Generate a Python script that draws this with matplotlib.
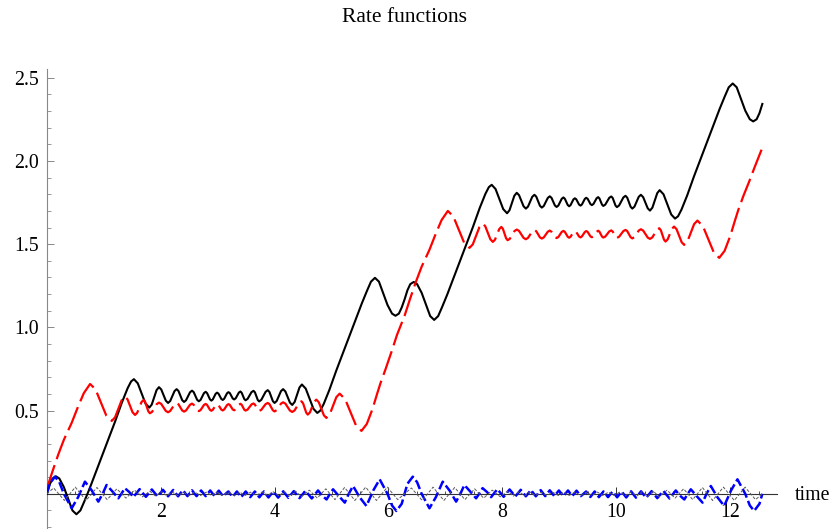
import matplotlib
matplotlib.use("Agg")
import matplotlib.pyplot as plt
from matplotlib.ticker import MultipleLocator, FixedLocator, FixedFormatter

plt.rcParams['font.family'] = ['Liberation Serif', 'DejaVu Serif']
plt.rcParams['lines.scale_dashes'] = False

# ---------------- data ----------------
black_t = [0.00, 0.05, 0.10, 0.16, 0.22, 0.30, 0.38, 0.45, 0.52, 0.59, 0.66, 0.75, 0.90, 1.05, 1.20, 1.32, 1.42, 1.48,
           1.53, 1.5975, 1.665, 1.7325, 1.80, 1.8425, 1.885, 1.9275, 1.97, 2.01, 2.05, 2.09, 2.13, 2.1675, 2.205, 2.2425,
           2.28, 2.3125, 2.345, 2.3775, 2.41, 2.445, 2.48, 2.515, 2.55, 2.58, 2.61, 2.64, 2.67, 2.70, 2.73, 2.76,
           2.79, 2.815, 2.84, 2.865, 2.89, 2.915, 2.94, 2.965, 2.99, 3.015, 3.04, 3.065, 3.09, 3.115, 3.14, 3.165,
           3.19, 3.215, 3.24, 3.265, 3.29, 3.3175, 3.345, 3.3725, 3.40, 3.4225, 3.445, 3.4675, 3.49, 3.525, 3.56, 3.595,
           3.63, 3.655, 3.68, 3.705, 3.73, 3.7675, 3.805, 3.8425, 3.88, 3.91, 3.94, 3.97, 4.00, 4.0375, 4.075, 4.1125,
           4.15, 4.19, 4.23, 4.27, 4.31, 4.3525, 4.395, 4.4375, 4.48, 4.5475, 4.615, 4.6825, 4.75,
           4.803, 4.863, 4.963, 5.083, 5.233, 5.383, 5.533, 5.623, 5.693, 5.763, 5.833, 5.903, 5.983, 6.063, 6.123,
           6.183, 6.233,
           6.283, 6.333, 6.383, 6.443, 6.503, 6.583, 6.663, 6.733, 6.803, 6.873, 6.943, 7.033, 7.183, 7.333, 7.483, 7.603,
           7.703, 7.763,
           7.813, 7.8805, 7.948, 8.0155, 8.083, 8.1255, 8.168, 8.2105, 8.253, 8.293, 8.333, 8.373, 8.413, 8.4505, 8.488,
           8.5255, 8.563, 8.5955, 8.628, 8.6605, 8.693, 8.728, 8.763, 8.798, 8.833, 8.863, 8.893, 8.923, 8.953, 8.983,
           9.013, 9.043, 9.073, 9.098, 9.123, 9.148, 9.173, 9.198, 9.223, 9.248, 9.273, 9.298, 9.323, 9.348, 9.373,
           9.398, 9.423, 9.448, 9.473, 9.498, 9.523, 9.548, 9.573, 9.6005, 9.628, 9.6555, 9.683, 9.7055, 9.728, 9.7505,
           9.773, 9.808, 9.843, 9.878, 9.913, 9.938, 9.963, 9.988, 10.013, 10.0505, 10.088, 10.1255, 10.163, 10.193,
           10.223, 10.253, 10.283, 10.3205, 10.358, 10.3955, 10.433, 10.473, 10.513, 10.553, 10.593, 10.6355, 10.678,
           10.7205, 10.763, 10.8305, 10.898, 10.9655, 11.033,
           11.086, 11.146, 11.246, 11.366, 11.516, 11.666, 11.816, 11.906, 11.976, 12.046, 12.116, 12.186, 12.266,
           12.346, 12.406, 12.466, 12.516, 12.566]
black_y = [0.000, 0.055, 0.092, 0.105, 0.092, 0.040, -0.035, -0.100, -0.123, -0.100, -0.045, 0.030, 0.165, 0.300, 0.435,
           0.550, 0.635, 0.675,
           0.689, 0.664, 0.6035, 0.543, 0.518, 0.536, 0.5795, 0.623, 0.641, 0.627, 0.5935, 0.560, 0.546, 0.558, 0.5875,
           0.617, 0.629, 0.618, 0.5905, 0.563, 0.552, 0.562, 0.586, 0.610, 0.620, 0.611, 0.588, 0.565, 0.556, 0.564,
           0.5845, 0.605, 0.613, 0.605, 0.5865, 0.568, 0.560, 0.567, 0.584, 0.601, 0.608, 0.602, 0.586, 0.570, 0.564,
           0.571, 0.5875, 0.604, 0.611, 0.605, 0.589, 0.573, 0.567, 0.574, 0.591, 0.608, 0.615, 0.607, 0.5885, 0.570,
           0.562, 0.570, 0.5905, 0.611, 0.619, 0.610, 0.587, 0.564, 0.555, 0.565, 0.589, 0.613, 0.623, 0.612, 0.5845,
           0.557, 0.546, 0.558, 0.5875, 0.617, 0.629, 0.615, 0.5815, 0.548, 0.534, 0.552, 0.5955, 0.639, 0.657, 0.632,
           0.5715, 0.511, 0.486,
           0.500, 0.540, 0.625, 0.740, 0.875, 1.010, 1.145, 1.220, 1.275, 1.298, 1.275, 1.210, 1.135, 1.083, 1.070,
           1.083, 1.120,
           1.168, 1.223, 1.260, 1.273, 1.260, 1.208, 1.133, 1.068, 1.045, 1.068, 1.123, 1.198, 1.333, 1.468, 1.603, 1.718,
           1.803, 1.843,
           1.857, 1.832, 1.7715, 1.711, 1.686, 1.704, 1.7475, 1.791, 1.809, 1.795, 1.7615, 1.728, 1.714, 1.726, 1.7555,
           1.785, 1.797, 1.786, 1.7585, 1.731, 1.720, 1.730, 1.754, 1.778, 1.788, 1.779, 1.756, 1.733, 1.724, 1.732,
           1.7525, 1.773, 1.781, 1.773, 1.7545, 1.736, 1.728, 1.735, 1.752, 1.769, 1.776, 1.770, 1.754, 1.738, 1.732,
           1.739, 1.7555, 1.772, 1.779, 1.773, 1.757, 1.741, 1.735, 1.742, 1.759, 1.776, 1.783, 1.775, 1.7565, 1.738,
           1.730, 1.738, 1.7585, 1.779, 1.787, 1.778, 1.755, 1.732, 1.723, 1.733, 1.757, 1.781, 1.791, 1.780, 1.7525,
           1.725, 1.714, 1.726, 1.7555, 1.785, 1.797, 1.783, 1.7495, 1.716, 1.702, 1.720, 1.7635, 1.807, 1.825, 1.800,
           1.7395, 1.679, 1.654,
           1.668, 1.708, 1.793, 1.908, 2.043, 2.178, 2.313, 2.388, 2.443, 2.466, 2.443, 2.378, 2.303, 2.251, 2.238, 2.251,
           2.288, 2.343]

red_t = [0.00, 0.10, 0.20, 0.30, 0.435, 0.55, 0.65, 0.76, 0.855, 0.95, 1.045, 1.14, 1.198, 1.2565, 1.315, 1.373, 1.417,
         1.4615, 1.506, 1.55, 1.5875, 1.625, 1.6625, 1.70, 1.7275, 1.755, 1.7825, 1.81, 1.85, 1.89, 1.93, 1.97, 2.01,
         2.05, 2.09, 2.13, 2.1675, 2.205, 2.2425, 2.28, 2.3125, 2.345, 2.3775, 2.41, 2.445, 2.48, 2.515, 2.55, 2.58,
         2.61, 2.64, 2.67, 2.70, 2.73, 2.76, 2.79, 2.815, 2.84, 2.865, 2.89, 2.915, 2.94, 2.965, 2.99, 3.015, 3.04,
         3.065, 3.09, 3.115, 3.14, 3.165, 3.19, 3.215, 3.24, 3.265, 3.29, 3.3175, 3.345, 3.3725, 3.40, 3.4225, 3.445,
         3.4675, 3.49, 3.525, 3.56, 3.595, 3.63, 3.655, 3.68, 3.705, 3.73, 3.7675, 3.805, 3.8425, 3.88, 3.91, 3.94,
         3.97, 4.00, 4.0375, 4.075, 4.1125, 4.15, 4.19, 4.23, 4.27, 4.31, 4.351, 4.3915, 4.432, 4.473, 4.5005, 4.528,
         4.5555, 4.583, 4.6205, 4.658, 4.6955, 4.733, 4.777, 4.8215, 4.866, 4.91, 4.968, 5.0265, 5.085, 5.143, 5.239,
         5.3345, 5.43, 5.526, 5.62, 5.72, 5.80, 5.86, 5.95, 6.05, 6.15,
         6.283, 6.383, 6.483, 6.583, 6.718, 6.833, 6.933, 7.043, 7.138, 7.233, 7.328, 7.423, 7.481, 7.5395, 7.598,
         7.656, 7.700, 7.7445, 7.789, 7.833, 7.8705, 7.908, 7.9455, 7.983, 8.0105, 8.038, 8.0655, 8.093, 8.133, 8.173,
         8.213, 8.253, 8.293, 8.333, 8.373, 8.413, 8.4505, 8.488, 8.5255, 8.563, 8.5955, 8.628, 8.6605, 8.693, 8.728,
         8.763, 8.798, 8.833, 8.863, 8.893, 8.923, 8.953, 8.983, 9.013, 9.043, 9.073, 9.098, 9.123, 9.148, 9.173,
         9.198, 9.223, 9.248, 9.273, 9.298, 9.323, 9.348, 9.373, 9.398, 9.423, 9.448, 9.473, 9.498, 9.523, 9.548,
         9.573, 9.6005, 9.628, 9.6555, 9.683, 9.7055, 9.728, 9.7505, 9.773, 9.808, 9.843, 9.878, 9.913, 9.938, 9.963,
         9.988, 10.013, 10.0505, 10.088, 10.1255, 10.163, 10.193, 10.223, 10.253, 10.283, 10.3205, 10.358, 10.3955,
         10.433, 10.473, 10.513, 10.553, 10.593, 10.634, 10.6745, 10.715, 10.756, 10.7835, 10.811, 10.8385, 10.866,
         10.9035, 10.941, 10.9785, 11.016, 11.06, 11.1045, 11.149, 11.193, 11.251, 11.3095, 11.368, 11.426, 11.522,
         11.6175, 11.713, 11.809, 11.903, 12.003, 12.083, 12.143, 12.233, 12.333, 12.433, 12.566]
red_y = [0.030, 0.135, 0.235, 0.325, 0.425, 0.525, 0.605, 0.660, 0.628, 0.549, 0.470, 0.438, 0.459, 0.511, 0.563, 0.584,
         0.568, 0.529, 0.490, 0.474, 0.487, 0.519, 0.551, 0.564, 0.552, 0.524, 0.496, 0.484, 0.493, 0.516, 0.539, 0.548,
         0.540, 0.519, 0.498, 0.490, 0.498, 0.5175, 0.537, 0.545, 0.538, 0.5195, 0.501, 0.494, 0.501, 0.518, 0.535,
         0.542, 0.535, 0.5195, 0.504, 0.497, 0.503, 0.5185, 0.534, 0.540, 0.534, 0.5195, 0.505, 0.499, 0.505, 0.5185,
         0.532, 0.538, 0.533, 0.5195, 0.506, 0.501, 0.507, 0.520, 0.533, 0.539, 0.534, 0.5205, 0.507, 0.502, 0.508,
         0.5215, 0.535, 0.541, 0.535, 0.5205, 0.506, 0.500, 0.506, 0.5215, 0.537, 0.543, 0.536, 0.5205, 0.505, 0.498,
         0.505, 0.522, 0.539, 0.546, 0.539, 0.5205, 0.502, 0.495, 0.503, 0.5225, 0.542, 0.550, 0.542, 0.521, 0.500,
         0.492, 0.501, 0.524, 0.547, 0.556, 0.544, 0.516, 0.488, 0.476, 0.489, 0.521, 0.553, 0.566, 0.550, 0.511,
         0.472, 0.456, 0.477, 0.529, 0.581, 0.602, 0.569, 0.490, 0.411, 0.378, 0.420, 0.510, 0.600, 0.665, 0.750,
         0.850, 0.955,
         1.070, 1.175, 1.275, 1.365, 1.465, 1.565, 1.645, 1.700, 1.668, 1.589, 1.510, 1.478, 1.499, 1.551, 1.603, 1.624,
         1.608, 1.569, 1.530, 1.514, 1.527, 1.559, 1.591, 1.604, 1.592, 1.564, 1.536, 1.524, 1.533, 1.556, 1.579,
         1.588, 1.580, 1.559, 1.538, 1.530, 1.538, 1.5575, 1.577, 1.585, 1.578, 1.5595, 1.541, 1.534, 1.541, 1.558,
         1.575, 1.582, 1.575, 1.5595, 1.544, 1.537, 1.543, 1.5585, 1.574, 1.580, 1.574, 1.5595, 1.545, 1.539, 1.545,
         1.5585, 1.572, 1.578, 1.573, 1.5595, 1.546, 1.541, 1.547, 1.560, 1.573, 1.579, 1.574, 1.5605, 1.547, 1.542,
         1.548, 1.5615, 1.575, 1.581, 1.575, 1.5605, 1.546, 1.540, 1.546, 1.5615, 1.577, 1.583, 1.576, 1.5605, 1.545,
         1.538, 1.545, 1.562, 1.579, 1.586, 1.579, 1.5605, 1.542, 1.535, 1.543, 1.5625, 1.582, 1.590, 1.582, 1.561,
         1.540, 1.532, 1.541, 1.564, 1.587, 1.596, 1.584, 1.556, 1.528, 1.516, 1.529, 1.561, 1.593, 1.606, 1.590,
         1.551, 1.512, 1.496, 1.517, 1.569, 1.621, 1.642, 1.609, 1.530, 1.451, 1.418, 1.460, 1.550, 1.640, 1.705,
         1.790, 1.875, 1.965, 2.080]

blue_t = [0.00, 0.05, 0.144, 0.22, 0.30, 0.437, 0.55, 0.67, 0.79, 0.905, 0.98, 1.05, 1.15, 1.256, 1.31, 1.37, 1.45, 1.52,
          1.63, 1.74, 1.845, 1.945, 2.04, 2.13, 2.22, 2.305, 2.39, 2.47, 2.55, 2.63, 2.71, 2.79, 2.87, 2.945, 3.02, 3.095,
          3.188, 3.263, 3.338, 3.413, 3.493, 3.573, 3.653, 3.733, 3.813, 3.893, 3.978, 4.063, 4.153, 4.243, 4.338, 4.438,
          4.543, 4.653, 4.763, 4.833, 4.913, 4.973, 5.027, 5.133, 5.233, 5.303, 5.378, 5.493, 5.613, 5.733, 5.846, 5.983,
          6.063, 6.139, 6.233, 6.283, 6.333, 6.427, 6.503, 6.583, 6.720, 6.833, 6.953, 7.073, 7.188, 7.263, 7.333, 7.433,
          7.539, 7.593, 7.653, 7.733, 7.803, 7.913, 8.023, 8.128, 8.228, 8.323, 8.413, 8.503, 8.588, 8.673, 8.753, 8.833,
          8.913, 8.993, 9.073, 9.153, 9.228, 9.303, 9.378, 9.471, 9.546, 9.621, 9.696, 9.776, 9.856, 9.936, 10.016,
          10.096, 10.176, 10.261, 10.346, 10.436, 10.526, 10.621, 10.721, 10.826, 10.936, 11.046, 11.116, 11.196, 11.256,
          11.310, 11.416, 11.516, 11.586, 11.661, 11.776, 11.896, 12.016, 12.129, 12.266, 12.346, 12.422, 12.516, 12.566]
blue_y = [0.000, 0.060, 0.103, 0.070, 0.000, -0.087, -0.020, 0.073, 0.020, -0.047, 0.000, 0.053, 0.015, -0.027, 0.000,
          0.034, 0.010, -0.020, 0.028, -0.018, 0.026, -0.016, 0.024, -0.015, 0.023, -0.015, 0.022, -0.014, 0.021, -0.014,
          0.020, -0.014, 0.020, -0.014, 0.019, -0.014, 0.014, -0.019, 0.014, -0.020, 0.014, -0.020, 0.014, -0.021, 0.014,
          -0.022, 0.015, -0.023, 0.015, -0.024, 0.016, -0.026, 0.018, -0.028, 0.020, -0.010, -0.034, 0.000, 0.027,
          -0.015, -0.053, 0.000, 0.047, -0.020, -0.073, 0.020, 0.087, 0.000, -0.070, -0.103, -0.060, 0.000, 0.060, 0.103,
          0.070, 0.000, -0.087, -0.020, 0.073, 0.020, -0.047, 0.000, 0.053, 0.015, -0.027, 0.000, 0.034, 0.010, -0.020,
          0.028, -0.018, 0.026, -0.016, 0.024, -0.015, 0.023, -0.015, 0.022, -0.014, 0.021, -0.014, 0.020, -0.014, 0.020,
          -0.014, 0.019, -0.014, 0.014, -0.019, 0.014, -0.020, 0.014, -0.020, 0.014, -0.021, 0.014, -0.022, 0.015,
          -0.023, 0.015, -0.024, 0.016, -0.026, 0.018, -0.028, 0.020, -0.010, -0.034, 0.000, 0.027, -0.015, -0.053,
          0.000, 0.047, -0.020, -0.073, 0.020, 0.087, 0.000, -0.070, -0.103, -0.060, 0.000]

gray_t = [0.00, 0.12, 0.31, 0.50, 0.69, 0.88, 1.06, 1.23, 1.39, 1.54, 1.68, 1.81, 1.91, 2.01, 2.11, 2.20, 2.30, 2.40, 2.50,
          2.60, 2.70, 2.80, 2.89, 2.99, 3.09, 3.19, 3.29, 3.39, 3.48, 3.58, 3.68, 3.78, 3.88, 3.98, 4.08, 4.17, 4.27, 4.37,
          4.47, 4.61, 4.75, 4.90, 5.06, 5.23, 5.41, 5.60, 5.79, 5.98, 6.163, 6.283, 6.403, 6.593, 6.783, 6.973, 7.163,
          7.343, 7.513, 7.673, 7.823, 7.963, 8.093, 8.193, 8.293, 8.393, 8.483, 8.583, 8.683, 8.783, 8.883, 8.983, 9.083,
          9.173, 9.273, 9.373, 9.473, 9.573, 9.673, 9.763, 9.863, 9.963, 10.063, 10.163, 10.263, 10.363, 10.453, 10.553,
          10.653, 10.753, 10.893, 11.033, 11.183, 11.343, 11.513, 11.693, 11.883, 12.073, 12.263, 12.446, 12.566]
gray_y = [0.000, 0.035, -0.040, 0.040, -0.040, 0.038, -0.035, 0.030, -0.026, 0.022, -0.018, 0.016, -0.014, 0.013, -0.012,
          0.011, -0.011, 0.010, -0.010, 0.010, -0.010, 0.010, -0.010, 0.010, -0.010, 0.010, -0.010, 0.010, -0.010, 0.010,
          -0.010, 0.011, -0.011, 0.012, -0.013, 0.014, -0.016, 0.016, -0.018, 0.022, -0.026, 0.030, -0.035, 0.038,
          -0.040, 0.040, -0.040, 0.040, -0.035, 0.000, 0.035, -0.040, 0.040, -0.040, 0.038, -0.035, 0.030, -0.026, 0.022,
          -0.018, 0.016, -0.014, 0.013, -0.012, 0.011, -0.011, 0.010, -0.010, 0.010, -0.010, 0.010, -0.010, 0.010,
          -0.010, 0.010, -0.010, 0.010, -0.010, 0.010, -0.010, 0.011, -0.011, 0.012, -0.013, 0.014, -0.016, 0.016,
          -0.018, 0.022, -0.026, 0.030, -0.035, 0.038, -0.040, 0.040, -0.040, 0.040, -0.035, 0.000]

y_major = [0.5, 1.0, 1.5, 2.0, 2.5]
y_labels = ["0.5", "1.0", "1.5", "2.0", "2.5"]
x_major = [2, 4, 6, 8, 10, 12]
x_labels = ["2", "4", "6", "8", "10", "12"]
title_text = "Rate functions"
xlabel_text = "time"

# ---------------- figure ----------------
W, H = 833, 529
fig = plt.figure(figsize=(W / 100, H / 100), dpi=100)
ax = fig.add_axes([46.8 / W, 0.0, 730 / W, 460 / H])
ax.set_xlim(0, 12.82)
ax.set_ylim(-0.2115, 2.553)
ax.patch.set_visible(False)

ax.plot(black_t, black_y, color='black', lw=1.5, solid_joinstyle='round', zorder=3)
ax.plot(red_t, red_y, color='#ff0000', lw=1.6, dashes=(18, 4.5), zorder=4)
ax.plot(blue_t, blue_y, color='#0000ff', lw=1.8, dashes=(7, 2.5), zorder=5)
ax.plot(gray_t, gray_y, color='#5a5a5a', lw=0.7, dashes=(2.2, 1.2), zorder=6)

for s in ('top', 'right'):
    ax.spines[s].set_visible(False)
ax.spines['left'].set_position(('data', 0))
ax.spines['bottom'].set_position(('data', 0))
ax.spines['left'].set_color('#888888')
ax.spines['bottom'].set_color('#333333')
ax.spines['left'].set_linewidth(0.8)
ax.spines['bottom'].set_linewidth(0.8)

ax.yaxis.set_major_locator(FixedLocator(y_major))
ax.yaxis.set_major_formatter(FixedFormatter(y_labels))
ax.yaxis.set_minor_locator(MultipleLocator(0.1))
ax.xaxis.set_major_locator(FixedLocator(x_major))
ax.xaxis.set_major_formatter(FixedFormatter(x_labels))
ax.xaxis.set_minor_locator(MultipleLocator(0.5))

ax.tick_params(axis='y', which='major', direction='in', length=5, width=0.7, color='#888888',
               labelsize=14.3, pad=5.4)
ax.tick_params(axis='y', which='minor', direction='in', length=3, width=0.6, color='#888888')
ax.tick_params(axis='x', which='major', direction='in', length=5, width=0.7, color='#333333',
               labelsize=14.3, pad=6.5)
ax.tick_params(axis='x', which='minor', direction='in', length=2.5, width=0.6, color='#333333')

fig.text(405 / W, 1 - 18 / H, title_text, ha='center', va='center', fontsize=15.5)
fig.text(795 / W, 1 - 495 / H, xlabel_text, ha='left', va='center', fontsize=14.3)

fig.savefig("out.png", dpi=100)
